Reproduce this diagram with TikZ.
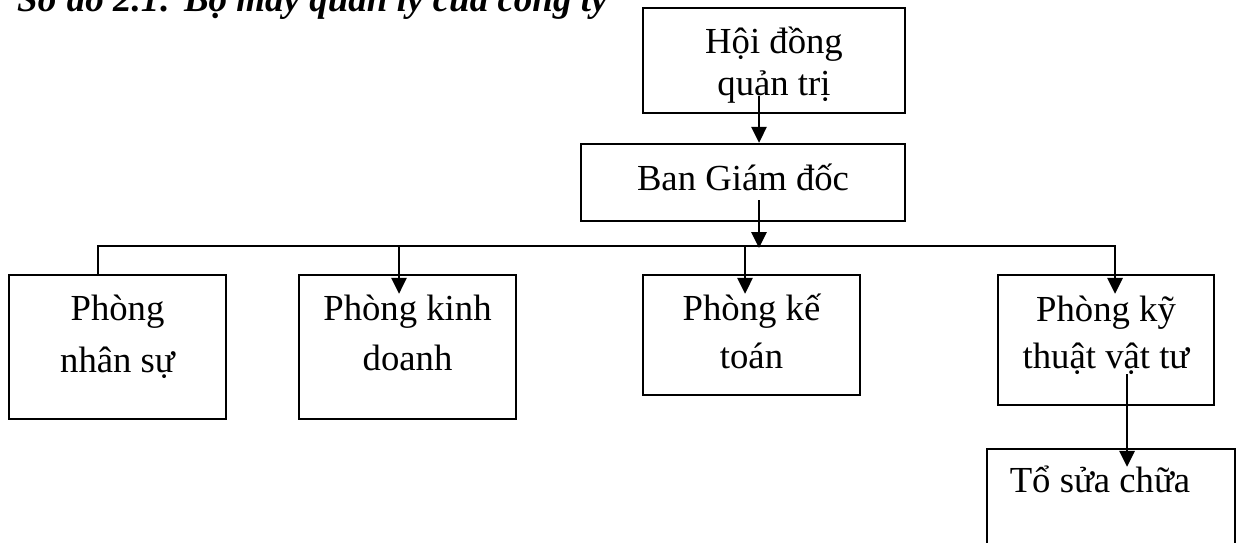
\documentclass[tikz,border=0pt]{standalone}
\usepackage{fontspec}
\setmainfont{Liberation Serif}
\usetikzlibrary{arrows.meta,calc}

\tikzset{
  box/.style={draw=black, line width=2.2pt, rectangle, inner sep=0pt, fill=none},
  conn/.style={draw=black, line width=2.8pt},
  arr/.style={conn, -{Triangle[length=16pt,width=15pt]}},
  % multi-line texts: the base anchor sits on the last line's baseline
  txt/.style={anchor=base, align=center, inner sep=0pt, font=\fontsize{36.7}{42}\selectfont},
}

\begin{document}
\begin{tikzpicture}[x=1pt,y=-1pt]
  \useasboundingbox (0,0) rectangle (1236,542);
  \clip (0,0) rectangle (1236,542);
  \fill[white] (0,0) rectangle (1236,542);

  % caption
  \node[anchor=base west, inner sep=0pt, font=\fontsize{37}{42}\selectfont\bfseries\itshape]
    (caption) at (17,11) {Sơ đồ 2.1: Bộ máy quản lý của công ty};

  % boxes
  \node[box, minimum width=262, minimum height=105] (hdqt) at (774,60.5) {};
  \node[box, minimum width=324, minimum height=77]  (ban)  at (743,182.5) {};
  \node[box, minimum width=217, minimum height=144] (ns)   at (117.5,347) {};
  \node[box, minimum width=217, minimum height=144] (kd)   at (407.5,347) {};
  \node[box, minimum width=217, minimum height=120] (kt)   at (751.5,335) {};
  \node[box, minimum width=216, minimum height=130] (ktvt) at (1106,340) {};
  \node[box, minimum width=248, minimum height=111] (sc)   at (1111,504.5) {};

  % box texts
  \node[txt, font=\fontsize{36.7}{42}\selectfont] (thdqt) at (774,95) {Hội đồng\\quản trị};
  \node[txt] (tban) at (743,190) {Ban Giám đốc};
  \node[txt, font=\fontsize{36.7}{52}\selectfont] (tns) at (117.5,372) {Phòng\\nhân sự};
  \node[txt, font=\fontsize{36.7}{50}\selectfont] (tkd) at (407.5,370) {Phòng kinh\\doanh};
  \node[txt, font=\fontsize{36.7}{48}\selectfont] (tkt) at (751.5,368) {Phòng kế\\toán};
  \node[txt, font=\fontsize{36.7}{47}\selectfont] (tktvt) at (1106,368) {Phòng kỹ\\thuật vật tư};
  \node[txt] (tsc) at (1100,492) {Tổ sửa chữa};

  % connectors
  \draw[arr] ($(hdqt.south)+(-15,-18)$) -- ($(ban.north)+(16,0)$);
  \draw[arr] ($(ban.south)+(16,-22)$) -- ($(ban.south)+(16,26)$);
  \draw[arr] ($(ns.north)+(-19.5,0)$) -- ++(0,-28) -| ($(ktvt.north)+(9,20)$);
  \draw[arr] ($(kd.north)+(-8.5,-28)$) -- ($(kd.north)+(-8.5,20)$);
  \draw[arr] ($(kt.north)+(-6.5,-28)$) -- ($(kt.north)+(-6.5,20)$);
  \draw[arr] ($(ktvt.south)+(21,-32)$) -- ($(sc.north)+(16,19)$);
\end{tikzpicture}
\end{document}
